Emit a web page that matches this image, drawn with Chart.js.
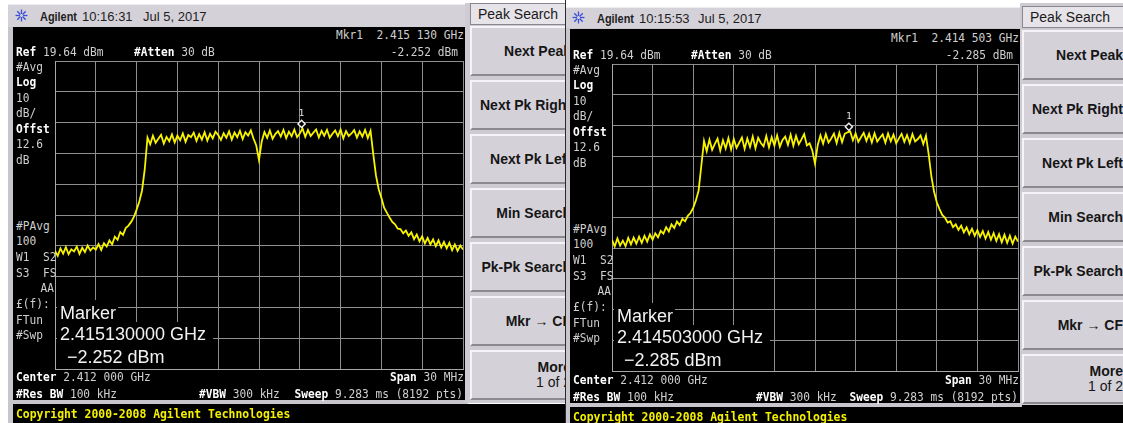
<!DOCTYPE html>
<html>
<head>
<meta charset="utf-8">
<script src="https://cdn.jsdelivr.net/npm/chart.js@4.4.1/dist/chart.umd.min.js"></script>
<style>
  html, body { margin: 0; padding: 0; background: #fff; }
  body { width: 1123px; height: 423px; position: relative; overflow: hidden;
         font-family: "Liberation Sans", Arial, sans-serif; }
  .abs { position: absolute; }
  .t { position: absolute; white-space: pre; line-height: 1; }
  .mono { font-family: "DejaVu Sans Mono", monospace; font-size: 11.2px; color: #cfcfcf; }
  .mono b { color: #fff; font-weight: bold; }
  .big { font-family: "Liberation Sans", Arial, sans-serif; font-size: 18px; color: #f2f2f2; }
  .copy { font-family: "DejaVu Sans Mono", monospace; font-size: 11.4px; font-weight: bold; color: #f4f000; }
  .hdr { font-size: 13px; color: #1e1e1e; }
  .key { position: absolute; box-sizing: border-box; background: #d5d1d9;
         border-top: 2px solid #f6f4f8; border-left: 2px solid #f6f4f8;
         border-bottom: 2px solid #8c8890; border-right: 2px solid #8c8890; }
  .keylbl { position: absolute; right: 2px; top: 50%; transform: translateY(-50%);
            text-align: right; font-size: 14px; font-weight: bold; color: #161616; white-space: pre; line-height: 15px; }
  .keylbl span { font-weight: normal; }
  .tab { position: absolute; box-sizing: border-box; background: #e6e3e9;
         border: 1px solid #8a8790; font-size: 14px; color: #1a1a1a; white-space: pre; }
</style>
</head>
<body>
<script>
// Analyzer settings shown on both screens
const CENTER_MHZ = 2412;
const SPAN_MHZ = 30;
const REF_DBM = 19.64;
const DB_PER_DIV = 10;
const DIVISIONS = 10;
const TRACE_STEP_MHZ = 0.2;   // trace samples every 200 kHz from the left edge of the span

// Averaged trace, first capture (dBm), 151 samples from 2397.0 to 2427.0 MHz
const traceA = [
  -42.0, -43.6, -41.2, -42.9, -40.8, -43.1, -41.5, -42.2, -40.6, -43.0,
  -41.0, -42.4, -40.3, -41.9, -40.9, -41.6, -39.8, -41.7, -39.5, -40.6,
  -38.6, -39.9, -37.4, -38.4, -35.9, -36.8, -34.6, -33.8, -32.6, -31.0,
  -28.6, -26.0, -22.4, -15.5,
  -5.2, -7.4, -4.6, -6.9, -5.6, -4.3, -7.2, -5.0, -6.4, -4.2,
  -6.8, -4.6, -6.1, -3.9, -6.6, -4.4, -5.1, -3.6, -6.3, -4.1,
  -5.9, -3.5, -6.2, -4.0, -5.5, -3.3, -4.4, -6.0, -3.8, -5.3,
  -3.2, -5.9, -3.6, -5.1, -3.0, -5.7, -3.5, -4.6, -2.9, -5.6,
  -7.8, -12.5, -6.5,
  -3.4, -5.3, -2.9, -5.6, -4.1, -3.1, -4.9, -2.7, -5.4, -3.3,
  -4.8, -2.6, -5.1, -3.9, -2.25, -5.0, -2.8, -4.7, -3.6, -2.6,
  -5.2, -3.0, -4.6, -2.7, -5.3, -4.0, -2.9, -4.8, -2.6, -5.5,
  -3.1, -4.7, -3.9, -2.8, -5.2, -3.2, -4.9, -2.7, -5.4, -3.0,
  -10.5, -17.5, -22.0, -24.8, -28.0, -29.6, -31.2, -32.6, -33.4, -34.8,
  -34.9, -36.3, -35.4, -37.1, -36.0, -38.2, -36.7, -38.9, -37.3, -39.6,
  -37.8, -39.9, -38.3, -40.5, -38.6, -40.9, -39.1, -41.2, -39.4, -41.8,
  -39.9, -42.0, -40.3, -41.6
];

// Averaged trace, second capture (dBm), same frequency grid
const traceB = [
  -37.6, -39.8, -37.2, -39.5, -37.9, -39.7, -37.0, -39.1, -36.9, -38.9,
  -36.6, -38.6, -36.3, -38.2, -35.9, -37.6, -35.5, -36.8, -34.7, -35.6,
  -33.5, -34.9, -32.6, -33.8, -31.7, -32.8, -30.8, -31.6, -29.8, -28.9,
  -27.2, -24.8, -21.6, -13.5,
  -5.4, -8.8, -5.0, -8.3, -6.4, -4.7, -8.6, -5.2, -7.9, -4.5,
  -8.2, -4.8, -7.7, -6.0, -4.3, -8.0, -4.6, -7.4, -4.0, -7.8,
  -4.4, -6.1, -7.2, -3.8, -7.5, -4.2, -6.9, -3.6, -7.3, -5.1,
  -4.0, -6.7, -3.4, -7.0, -3.8, -6.5, -4.9, -3.2, -6.9, -6.2,
  -8.5, -12.8, -6.8,
  -3.6, -6.3, -3.2, -5.9, -4.6, -3.0, -6.1, -2.8, -5.8, -3.1,
  -2.6, -2.29, -5.2, -3.0, -5.7, -4.2, -2.8, -5.4, -3.1, -5.9,
  -2.9, -5.6, -4.4, -3.3, -6.0, -3.0, -5.5, -3.4, -6.2, -4.6,
  -3.1, -5.7, -3.5, -6.1, -3.2, -5.6, -4.8, -3.6, -6.4, -3.7,
  -9.8, -17.0, -22.0, -25.4, -27.6, -29.5, -30.4, -32.0, -31.6, -33.5,
  -32.6, -34.4, -33.0, -35.2, -33.6, -35.8, -34.0, -36.3, -34.5, -36.7,
  -34.8, -37.2, -35.1, -37.6, -35.4, -38.0, -35.8, -38.4, -36.0, -38.6,
  -36.3, -38.9, -36.6, -38.2
];

// Marker 1 readouts
const markerGHz = [2.415130, 2.414503];
const markerDbm = [-2.252, -2.285];

// Screen captions
const timeStamps = ["10:16:31", "10:15:53"];
const dateStamp = "Jul 5, 2017";
const softKeys = ["Next Peak", "Next Pk Right", "Next Pk Left", "Min Search", "Pk-Pk Search", "Mkr \u2192 CF"];
const moreKey = ["More", "1 of 2"];
const sideUpper = ["#Avg", "<b>Log</b>", "10", "dB/", "<b>Offst</b>", "12.6", "dB"];
const sideLower = ["#PAvg", "100", "W1  S2", "S3  FS", "", "\u00a3(f):", "FTun", "#Swp"];

// ---------- helpers ----------
const body = document.body;
function box(x, y, w, h, bg, extra) {
  const d = document.createElement("div");
  d.className = "abs";
  Object.assign(d.style, { left: x + "px", top: y + "px", width: w + "px", height: h + "px", background: bg }, extra || {});
  body.appendChild(d);
  return d;
}
function text(html, x, cy, cls, align, extra) {
  const d = document.createElement("div");
  d.className = "t " + cls;
  d.innerHTML = html;
  d.style.left = x + "px";
  d.style.top = cy + "px";
  d.style.transform = (align === "right" ? "translateX(-100%) " : "") + "translateY(-50%)" +
                      (cls === "mono" ? " scaleY(1.12)" : "");
  if (extra) Object.assign(d.style, extra);
  body.appendChild(d);
  return d;
}
function spaced(v, digits) {           // 2.415130 -> "2.415 130"
  const s = v.toFixed(digits);
  const p = s.indexOf(".");
  return s.slice(0, p + 4) + " " + s.slice(p + 4);
}
function starIcon(x, y) {
  const ns = "http://www.w3.org/2000/svg";
  const svg = document.createElementNS(ns, "svg");
  svg.setAttribute("width", "13"); svg.setAttribute("height", "13");
  svg.style.position = "absolute"; svg.style.left = x + "px"; svg.style.top = y + "px";
  for (let k = 0; k < 8; k++) {
    const a = k * Math.PI / 4;
    const ln = document.createElementNS(ns, "line");
    ln.setAttribute("x1", 6.5 + Math.cos(a) * 1.5); ln.setAttribute("y1", 6.5 + Math.sin(a) * 1.5);
    ln.setAttribute("x2", 6.5 + Math.cos(a) * 6); ln.setAttribute("y2", 6.5 + Math.sin(a) * 6);
    ln.setAttribute("stroke", "#3a4fd8"); ln.setAttribute("stroke-width", "1.3");
    svg.appendChild(ln);
  }
  body.appendChild(svg);
}

// Marker diamond with its number, drawn at the marker's frequency/level
const markerPlugin = {
  id: "mkr",
  afterDatasetsDraw(chart, args, opts) {
    const { ctx, scales } = chart;
    const px = scales.x.getPixelForValue(opts.mhz);
    const py = scales.y.getPixelForValue(opts.dbm);
    const cy = py - 4.5, r = 3.6;
    ctx.save();
    ctx.beginPath();
    ctx.moveTo(px, cy - r); ctx.lineTo(px + r, cy); ctx.lineTo(px, cy + r); ctx.lineTo(px - r, cy); ctx.closePath();
    ctx.fillStyle = "#000"; ctx.fill();
    ctx.strokeStyle = "#f4f4f4"; ctx.lineWidth = 1.4; ctx.stroke();
    ctx.fillStyle = "#e8e8e8";
    ctx.font = "9px 'DejaVu Sans Mono', monospace";
    ctx.textAlign = "center"; ctx.textBaseline = "middle";
    ctx.fillText("1", px, py - 15);
    ctx.restore();
  }
};

function drawTrace(g, levels, mIdx) {
  const P = 4;
  const startMHz = CENTER_MHZ - SPAN_MHZ / 2;
  const bottomDbm = REF_DBM - DIVISIONS * DB_PER_DIV;
  const cv = document.createElement("canvas");
  cv.width = g.w + 2 * P; cv.height = g.h + 2 * P;
  Object.assign(cv.style, { position: "absolute", left: (g.x - P) + "px", top: (g.y - P) + "px" });
  body.appendChild(cv);
  const pts = levels.map((v, i) => ({ x: startMHz + i * TRACE_STEP_MHZ, y: v }));
  const gridCol = "#8e8e8e";
  new Chart(cv, {
    type: "line",
    data: { datasets: [{ data: pts, borderColor: "#f8f400", borderWidth: 1.8, pointRadius: 0, tension: 0, fill: false }] },
    options: {
      responsive: false, animation: false, devicePixelRatio: 1, events: [],
      layout: { padding: P },
      plugins: { legend: { display: false }, tooltip: { enabled: false },
                 mkr: { mhz: markerGHz[mIdx] * 1000, dbm: markerDbm[mIdx] } },
      scales: {
        x: { type: "linear", min: startMHz, max: startMHz + SPAN_MHZ,
             afterBuildTicks: s => { s.ticks = Array.from({ length: DIVISIONS + 1 }, (_, k) => ({ value: startMHz + k * SPAN_MHZ / DIVISIONS })); },
             ticks: { display: false }, grid: { color: gridCol, lineWidth: 1, drawTicks: false },
             border: { display: true, color: "#a8a8a8", width: 1 } },
        y: { type: "linear", min: bottomDbm, max: REF_DBM,
             afterBuildTicks: s => { s.ticks = Array.from({ length: DIVISIONS + 1 }, (_, k) => ({ value: bottomDbm + k * DB_PER_DIV })); },
             ticks: { display: false }, grid: { color: gridCol, lineWidth: 1, drawTicks: false },
             border: { display: true, color: "#a8a8a8", width: 1 } }
      }
    },
    plugins: [markerPlugin]
  });
}

function screenTexts(g, mIdx) {
  const L = g.x - 39, R = g.x + g.w + 1;
  const lvl = markerDbm[mIdx].toFixed(3);
  text("Mkr1  " + spaced(markerGHz[mIdx], 6) + " GHz", R, g.y - 26.5, "mono", "right");
  text("<b>Ref</b> " + REF_DBM.toFixed(2) + " dBm", L, g.y - 9, "mono");
  text("<b>#Atten</b> 30 dB", g.x + 79, g.y - 9, "mono");
  text(lvl + " dBm", g.x + g.w - 5, g.y - 9, "mono", "right");
  sideUpper.forEach((s, k) => text(s, L, g.y + 5.5 + k * 15.5, "mono"));
  sideLower.forEach((s, k) => { if (s) text(s, L, g.y + 164.5 + k * 15.7, "mono"); });
  text("AA", g.x - 1, g.y + 164.5 + 4 * 15.7, "mono", "right");
  text("<b>Center</b> " + spaced(CENTER_MHZ / 1000, 6) + " GHz", L, g.y + 316, "mono");
  text("<b>Span</b> " + SPAN_MHZ + " MHz", R, g.y + 316, "mono", "right");
  text("<b>#Res BW</b> 100 kHz", L, g.y + 332.5, "mono");
  text("<b>#VBW</b> 300 kHz", g.x + 144, g.y + 332.5, "mono");
  text("<b>Sweep</b> 9.283 ms (8192 pts)", g.x + g.w, g.y + 332.5, "mono", "right");

  // marker readout block over the graticule
  box(g.x + 2, g.y + 239, 61, 22, "#000");
  box(g.x + 2, g.y + 261, 156, 24, "#000");
  box(g.x + 2, g.y + 285, 121, g.h - 285, "#000");
  text("Marker", g.x + 5, g.y + 252, "big");
  text(markerGHz[mIdx].toFixed(9) + " GHz", g.x + 5, g.y + 273, "big");
  text(lvl.replace("-", "\u2212") + " dBm", g.x + 12, g.y + 296, "big");
}

function softKeyColumn(k) {
  box(k.x, k.y, k.w, k.h, "#cfcbd3");
  const tab = document.createElement("div");
  tab.className = "tab";
  Object.assign(tab.style, { left: k.btnX + "px", top: k.tabY + "px", width: "108px", height: k.tabH + "px",
                             lineHeight: (k.tabH - 2) + "px", paddingLeft: "7px" });
  tab.textContent = "Peak Search";
  body.appendChild(tab);
  const labels = softKeys.concat([null]);
  labels.forEach((s, i) => {
    const b = document.createElement("div");
    b.className = "key";
    Object.assign(b.style, { left: k.btnX + "px", top: (k.btnTop + i * k.pitch) + "px", width: "105px", height: k.btnH + "px" });
    const l = document.createElement("div");
    l.className = "keylbl";
    l.innerHTML = s !== null ? s : moreKey[0] + "<br><span>" + moreKey[1] + "</span>";
    b.appendChild(l);
    body.appendChild(b);
  });
}

function instrument(lay, trace, idx) {
  const h = lay.header;
  box(lay.frame.x, lay.frame.y, lay.frame.w, lay.frame.h, "#c9c5cd");
  box(h.x, h.y, h.w, h.h, "#d5d1d9", { borderTop: "1px solid #eeecf0", boxSizing: "border-box" });
  starIcon(h.iconX, h.y + h.h / 2 - 6.5);
  text("<b>Agilent</b>", h.agilentX, h.y + h.h / 2, "hdr", "left", { transform: "translateY(-50%) scaleX(0.84)", transformOrigin: "left center" });
  text(timeStamps[idx], h.timeX, h.y + h.h / 2, "hdr");
  text(dateStamp, h.dateX, h.y + h.h / 2, "hdr");
  box(lay.screen.x, lay.screen.y, lay.screen.w, lay.screen.h, "#000");
  box(lay.band.x, lay.band.y, lay.band.w, lay.band.h, "#000", { overflow: "hidden" });
  softKeyColumn(lay.keys);
  drawTrace(lay.grid, trace, idx);
  screenTexts(lay.grid, idx);
  text("Copyright 2000-2008 Agilent Technologies", lay.grid.x - 39, lay.copyY, "copy");
}

const layoutA = {
  grid: { x: 55, y: 61, w: 408, h: 308 },
  header: { x: 8, y: 4, w: 460, h: 23, iconX: 15, agilentX: 40, timeX: 82, dateX: 143 },
  frame: { x: 8, y: 27, w: 460, h: 396 },
  screen: { x: 13, y: 27, w: 452, h: 373 },
  band: { x: 13, y: 404, w: 552, h: 19 },
  copyY: 415,
  keys: { x: 465, y: 3, w: 100, h: 400, btnX: 470, tabY: 3, tabH: 22, btnTop: 26, pitch: 54, btnH: 50 }
};
const layoutB = {
  grid: { x: 612, y: 64, w: 406, h: 307 },
  header: { x: 566, y: 7, w: 456, h: 21, iconX: 572, agilentX: 597, timeX: 639, dateX: 698 },
  frame: { x: 566, y: 28, w: 456, h: 395 },
  screen: { x: 570, y: 29, w: 450, h: 374 },
  band: { x: 570, y: 407, w: 553, h: 16 },
  copyY: 418,
  keys: { x: 1020, y: 3, w: 103, h: 402, btnX: 1022, tabY: 6, tabH: 22, btnTop: 30, pitch: 54, btnH: 50 }
};

instrument(layoutA, traceA, 0);
// second capture sits on top of the first one's right edge
box(565, 0, 558, 423, "#fff", { borderLeft: "1px solid #2a2a2a", boxSizing: "border-box" });
box(1020, 405, 103, 18, "#000");
instrument(layoutB, traceB, 1);
</script>
</body>
</html>
